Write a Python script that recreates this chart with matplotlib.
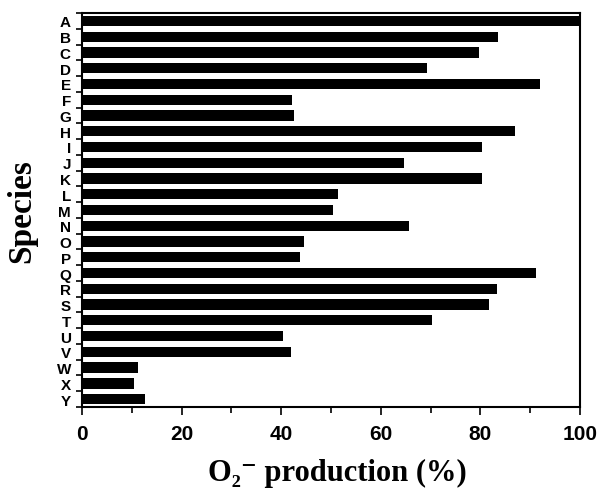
import matplotlib

matplotlib.use("Agg")
import matplotlib.pyplot as plt  # noqa: E402
import numpy as np  # noqa: E402
from matplotlib.ticker import FixedLocator, MultipleLocator  # noqa: E402

# ── Data ─────────────────────────────────────────────────────────────────────
species = list("ABCDEFGHIJKLMNOPQRSTUVWXY")
production = [100, 83.5, 79.7, 69.3, 92.0, 42.2, 42.6, 87.0, 80.3, 64.7,
              80.3, 51.4, 50.4, 65.7, 44.6, 43.8, 91.2, 83.3, 81.7, 70.3,
              40.4, 42.0, 11.2, 10.4, 12.7]
x_ticks = [0, 20, 40, 60, 80, 100]

fig = plt.figure(figsize=(6.01, 4.89), dpi=100)
ax = fig.add_axes([0.1364, 0.1656, 0.8286, 0.8058])

pos = np.arange(len(species))
ax.barh(pos, production, height=0.65, color="black", edgecolor="none")

ax.set_xlim(0, 100)
ax.set_ylim(len(species) - 0.5, -0.5)

# y labels at bar centres, tick marks between bars
ax.set_yticks(pos)
ax.set_yticklabels(species, fontfamily="Liberation Sans", fontweight="bold",
                   fontsize=11)
ax.yaxis.set_minor_locator(FixedLocator(np.arange(-0.5, len(species), 1.0)))
ax.tick_params(axis="y", which="major", length=0, pad=8)
ax.tick_params(axis="y", which="minor", length=4, width=1.2, direction="out")

ax.set_xticks(x_ticks)
ax.set_xticklabels([str(t) for t in x_ticks], fontfamily="Liberation Sans",
                   fontweight="bold", fontsize=15)
ax.xaxis.set_minor_locator(MultipleLocator(10))
ax.tick_params(axis="x", which="major", length=6, width=1.2, direction="out", pad=6)
ax.tick_params(axis="x", which="minor", length=4, width=1.2, direction="out")

for spine in ax.spines.values():
    spine.set_linewidth(1.5)

ax.set_xlabel("O\u2082\u207b production (%)",
              fontfamily=["Liberation Serif", "DejaVu Serif"],
              fontweight="bold", fontsize=22)
ax.xaxis.set_label_coords(0.512, -0.128)
ax.set_ylabel("Species", fontfamily="Liberation Serif", fontweight="bold",
              fontsize=24)
ax.yaxis.set_label_coords(-0.09, 0.5)

fig.savefig("out.png", dpi=100)
plt.close(fig)
